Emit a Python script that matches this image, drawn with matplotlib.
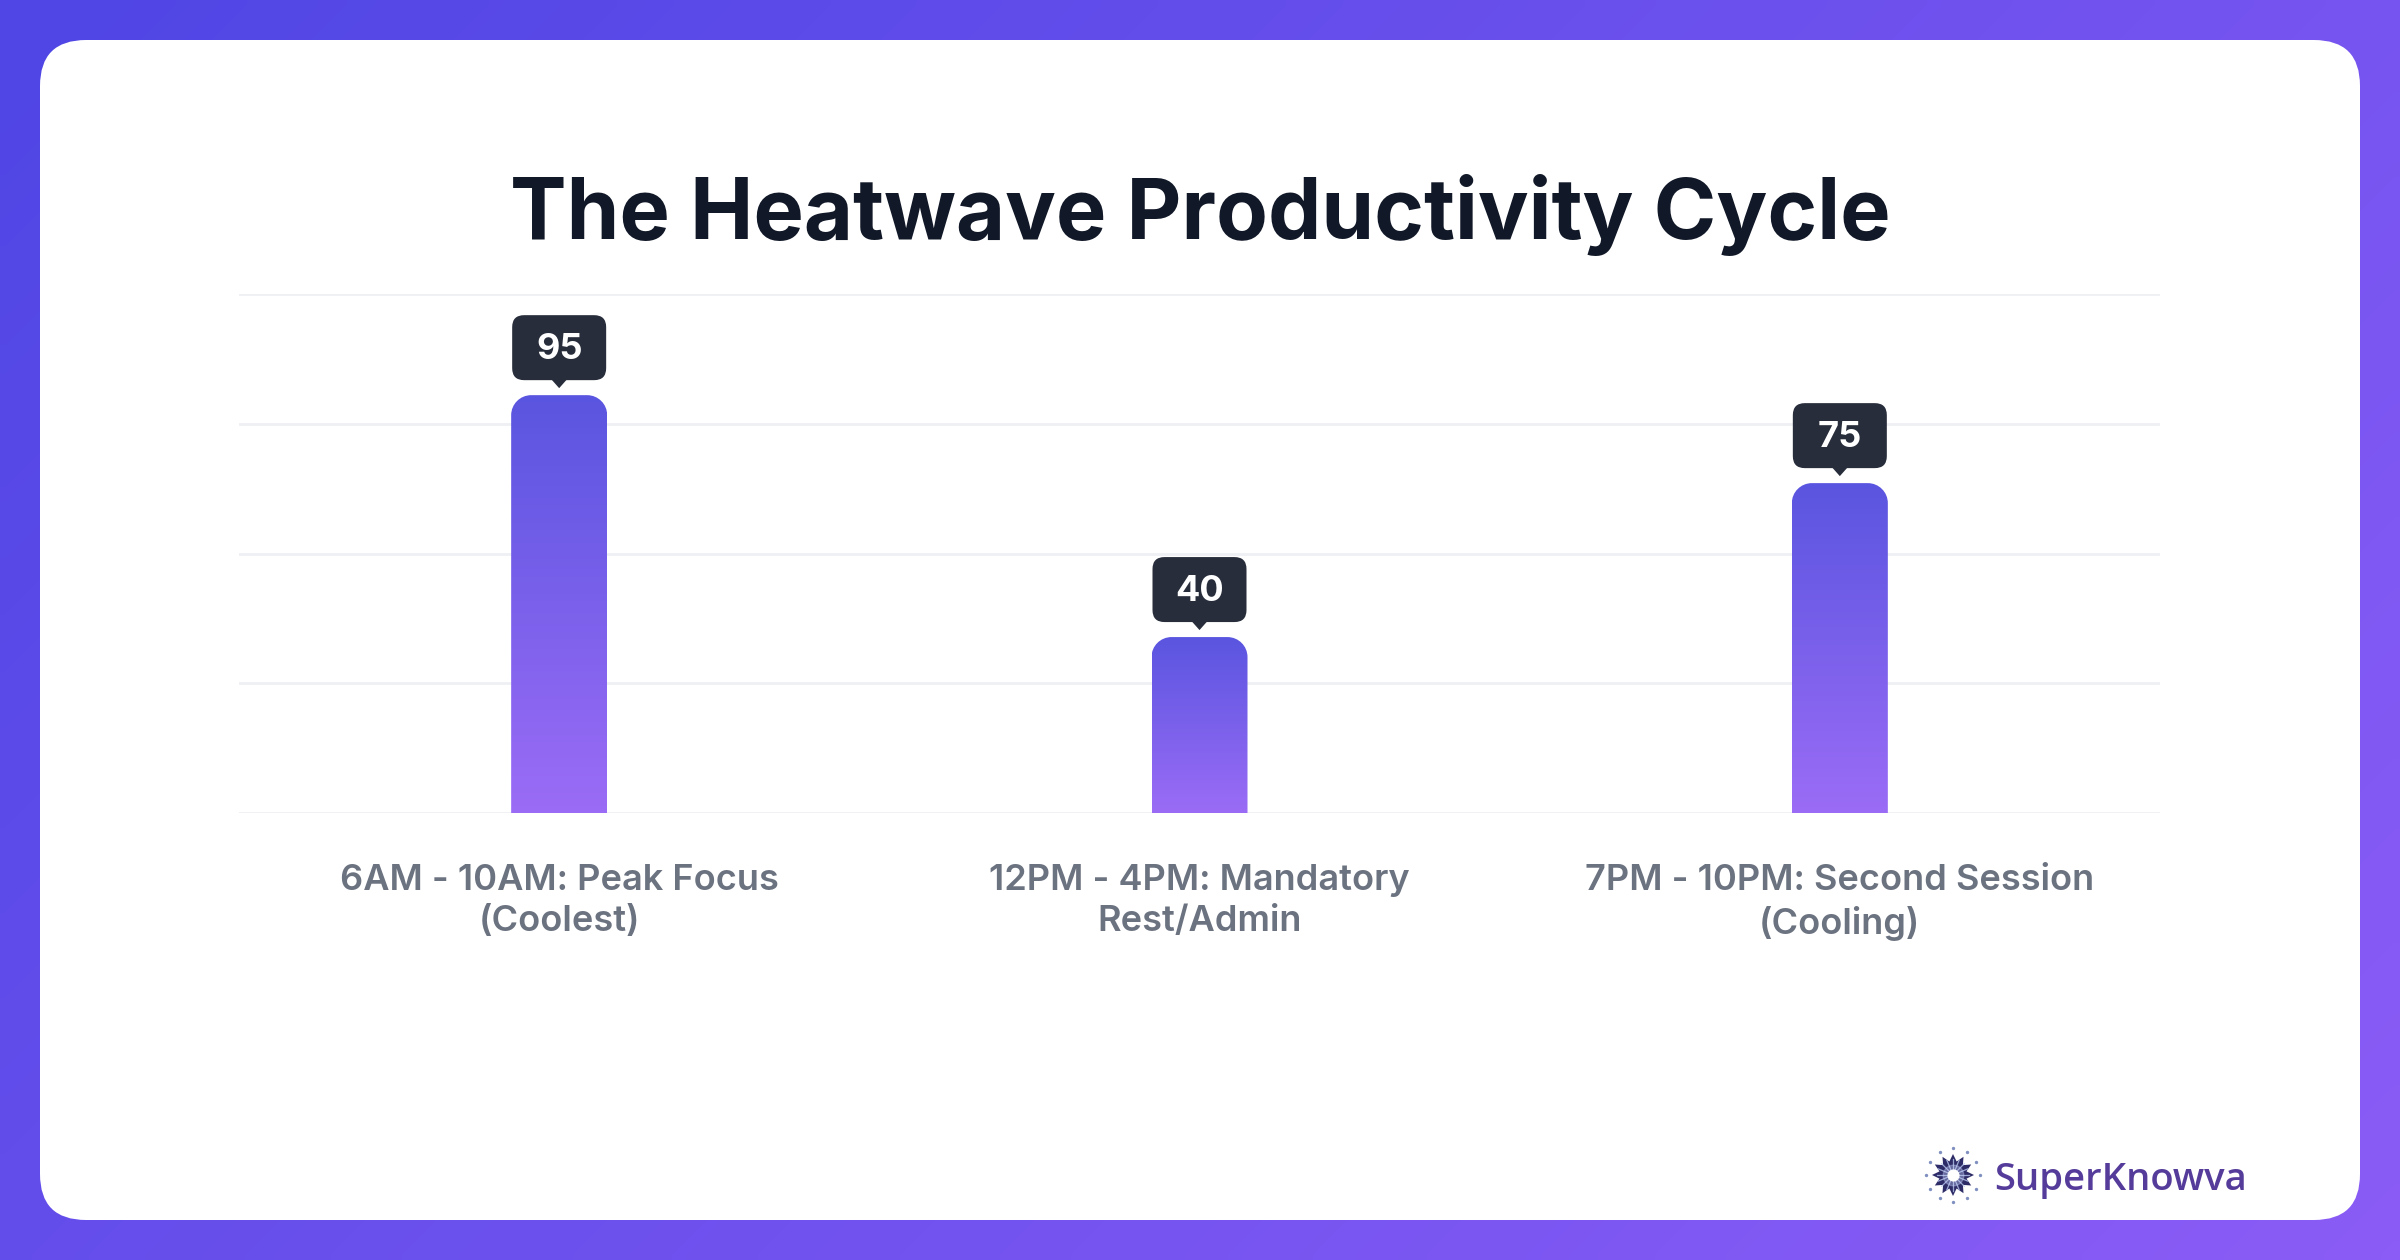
import numpy as np
import matplotlib
matplotlib.use("Agg")
import matplotlib.pyplot as plt
from matplotlib.patches import FancyBboxPatch, PathPatch, Polygon
from matplotlib.path import Path
from matplotlib import transforms
from matplotlib.colors import LinearSegmentedColormap

# ---------------- data ----------------
title = "The Heatwave Productivity Cycle"
categories = ["6AM - 10AM: Peak Focus\n(Coolest)",
              "12PM - 4PM: Mandatory\nRest/Admin",
              "7PM - 10PM: Second Session\n(Cooling)"]
values = [95, 40, 75]
y_max = 118
brand = "SuperKnowva"

W, H = 2400, 1260
DPI = 100
fig = plt.figure(figsize=(W / DPI, H / DPI), dpi=DPI)

# ---------------- background (pixel axes, y down) ----------------
bg = fig.add_axes([0, 0, 1, 1], zorder=0)
bg.set_xlim(0, W)
bg.set_ylim(H, 0)
bg.axis("off")
gx, gy = np.meshgrid(np.linspace(0, 1, 240), np.linspace(0, 1, 126))
t = (gx * W + gy * H) / (W + H)
bgmap = LinearSegmentedColormap.from_list("bg", ["#4f46e5", "#8b5cf6"])
bg.imshow(t, cmap=bgmap, extent=(0, W, H, 0), aspect="auto", interpolation="bilinear", zorder=0)
card = FancyBboxPatch((40, 40), 2320, 1180, boxstyle="round,pad=0,rounding_size=46",
                      fc="white", ec="none", zorder=1)
bg.add_patch(card)

bg.text(1200, 215, title, ha="center", va="center", fontsize=61, fontweight="bold",
        family=["Inter", "DejaVu Sans"], color="#111827", zorder=2)

# logo
cx, cy = 1953, 1175
n = 12
ang = np.linspace(0, 2 * np.pi, 2 * n, endpoint=False) + np.pi / 2
rad = np.where(np.arange(2 * n) % 2 == 0, 21, 14)
star = Polygon(np.c_[cx + rad * np.cos(ang), cy + rad * np.sin(ang)], closed=True,
               fc="#2e2c66", ec="none", zorder=3)
bg.add_patch(star)
for a in np.linspace(0, 2 * np.pi, 16, endpoint=False):
    bg.plot([cx, cx + 16 * np.cos(a)], [cy, cy + 16 * np.sin(a)], color="#b9c8f0",
            lw=0.9, alpha=0.8, zorder=4)
bg.scatter([cx], [cy], s=60, color="white", zorder=5)
bg.scatter([cx], [cy], s=220, color="#c9d6ff", alpha=0.35, zorder=4)
for a in np.linspace(0, 2 * np.pi, 12, endpoint=False):
    bg.scatter([cx + 27 * np.cos(a)], [cy + 27 * np.sin(a)], s=2, color="#8090c0", zorder=3)
bg.text(1994, 1180, brand, ha="left", va="center", fontsize=27.5, fontweight="semibold",
        family=["Open Sans", "DejaVu Sans"], color="#553c9a", zorder=3)

# ---------------- main chart axes ----------------
left, right, top, bottom = 239, 2160, 294, 813
ax = fig.add_axes([left / W, (H - bottom) / H, (right - left) / W, (bottom - top) / H], zorder=2)
ax.patch.set_alpha(0)
x = np.arange(len(values))
ax.set_xlim(-0.5, len(values) - 0.5)
ax.set_ylim(0, y_max)
for s in ax.spines.values():
    s.set_visible(False)
ax.set_yticks(np.linspace(0, y_max, 5))
ax.set_yticklabels([])
ax.tick_params(axis="y", length=0)
ax.grid(axis="y", color="#eef0f3", lw=2)
ax.set_axisbelow(True)
ax.set_xticks(x)
ax.set_xticklabels(categories, fontsize=26, color="#6b7280", fontweight="semibold",
                   family=["Inter", "DejaVu Sans"], linespacing=1.3)
ax.tick_params(axis="x", length=0, pad=37)

px_x = (right - left) / len(values)      # pixels per x unit
px_y = (bottom - top) / y_max            # pixels per y unit
bar_w = 96 / px_x
r_px = 20
rx, ry = r_px / px_x, r_px / px_y
k = 0.5523
barmap = LinearSegmentedColormap.from_list("bar", ["#9b6cf6", "#5a55e0"])
grad = np.linspace(0, 1, 256).reshape(-1, 1)

for xi, v in zip(x, values):
    x0, x1 = xi - bar_w / 2, xi + bar_w / 2
    verts = [(x0, 0), (x0, v - ry),
             (x0, v - ry + k * ry), (x0 + rx - k * rx, v), (x0 + rx, v),
             (x1 - rx, v),
             (x1 - rx + k * rx, v), (x1, v - ry + k * ry), (x1, v - ry),
             (x1, 0), (x0, 0)]
    codes = [Path.MOVETO, Path.LINETO,
             Path.CURVE4, Path.CURVE4, Path.CURVE4,
             Path.LINETO,
             Path.CURVE4, Path.CURVE4, Path.CURVE4,
             Path.LINETO, Path.CLOSEPOLY]
    patch = PathPatch(Path(verts, codes), fc="none", ec="none")
    ax.add_patch(patch)
    im = ax.imshow(grad, cmap=barmap, extent=(x0, x1, 0, v), origin="lower",
                   aspect="auto", zorder=3, interpolation="bilinear")
    im.set_clip_path(patch)

    # callout (pixel geometry anchored at bar top)
    tr = transforms.IdentityTransform() + transforms.ScaledTranslation(xi, v, ax.transData)
    box = FancyBboxPatch((-47, 15), 94, 65, boxstyle="round,pad=0,rounding_size=12",
                         fc="#272d3a", ec="none", transform=tr, clip_on=False, zorder=5)
    ax.add_patch(box)
    tri = Polygon([(-8, 16), (8, 16), (0, 7)], closed=True, fc="#272d3a", ec="none",
                  transform=tr, clip_on=False, zorder=5)
    ax.add_patch(tri)
    ax.annotate(str(v), xy=(xi, v), xytext=(0, 46), textcoords="offset pixels",
                ha="center", va="center", fontsize=26, fontweight="bold",
                family=["Inter", "DejaVu Sans"], color="white", zorder=6,
                annotation_clip=False)

ax.set_xlim(-0.5, len(values) - 0.5)
ax.set_ylim(0, y_max)

fig.savefig("out.png", dpi=DPI)
